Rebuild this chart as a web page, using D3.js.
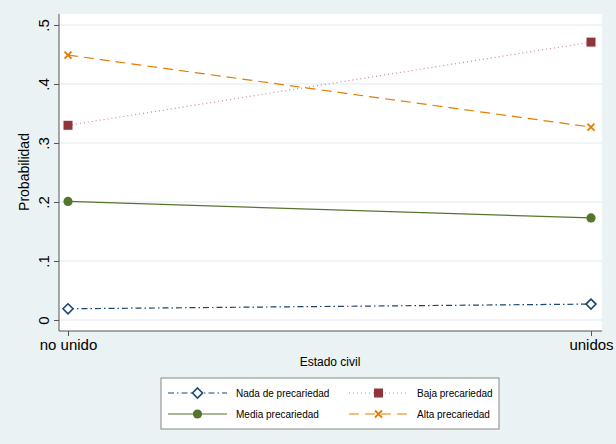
<!DOCTYPE html>
<html><head><meta charset="utf-8">
<script src="https://cdn.jsdelivr.net/npm/d3@7"></script>
<style>body{margin:0;background:#eaf2f3;}svg{display:block;font-family:"Liberation Sans",Arial,sans-serif;}</style>
</head><body>
<svg id="c" width="616" height="444"></svg>
<script>
const categories = ["no unido", "unidos"];
const nada = [0.019, 0.027];
const baja = [0.330, 0.471];
const media = [0.201, 0.173];
const alta = [0.449, 0.327];
const yTicks = [0, 0.1, 0.2, 0.3, 0.4, 0.5];
const yTickLabels = ["0", ".1", ".2", ".3", ".4", ".5"];
const seriesNames = ["Nada de precariedad", "Baja precariedad", "Media precariedad", "Alta precariedad"];

const series = [
  {name: seriesNames[0], values: nada, color: "#1a476f", dash: "6,3,1.5,3", marker: "diamond"},
  {name: seriesNames[1], values: baja, color: "#90353b", dash: "1,3", marker: "square", lineColor: "#c58a8f"},
  {name: seriesNames[2], values: media, color: "#55752f", dash: null, marker: "circle"},
  {name: seriesNames[3], values: alta, color: "#e37e00", dash: "10,6", marker: "x"}
];

const svg = d3.select("#c");
svg.append("rect").attr("width",616).attr("height",444).attr("fill","#eaf2f3");
const L=59, R=602, T=14, B=331;
svg.append("rect").attr("x",L).attr("y",T).attr("width",R-L).attr("height",B-T).attr("fill","#fff");

const x = d3.scalePoint().domain(categories).range([68, 591]);
const y = d3.scaleLinear().domain([0,0.5]).range([320, 25]);

// gridlines
svg.append("g").selectAll("line").data(yTicks).join("line")
  .attr("x1",L).attr("x2",R).attr("y1",d=>y(d)).attr("y2",d=>y(d))
  .attr("stroke","#eaf2f3").attr("stroke-width",1.5);

// y axis
const ya = svg.append("g").attr("transform",`translate(${L},0)`)
  .call(d3.axisLeft(y).tickValues(yTicks).tickFormat((d,i)=>yTickLabels[i]).tickSize(5).tickSizeOuter(0));
ya.select(".domain").attr("d",`M0,${T}V${B}`).attr("stroke","#555");
ya.selectAll(".tick line").attr("stroke","#555");
ya.selectAll(".tick text").attr("font-size",15).attr("fill","#000")
  .attr("transform","rotate(-90)").attr("x",0).attr("y",-10).attr("dy","0").attr("text-anchor","middle");

// x axis
const xa = svg.append("g").attr("transform",`translate(0,${B})`)
  .call(d3.axisBottom(x).tickSize(5).tickSizeOuter(0));
xa.select(".domain").attr("d",`M${L},0H${R}`).attr("stroke","#555");
xa.selectAll(".tick line").attr("stroke","#555");
xa.selectAll(".tick text").attr("font-size",15).attr("fill","#000").attr("y",8).attr("dy","0.71em");

svg.append("text").attr("transform","translate(29,172) rotate(-90)").attr("text-anchor","middle")
  .attr("font-size",14).text("Probabilidad");
svg.append("text").attr("x",330).attr("y",366).attr("text-anchor","middle").attr("font-size",12).text("Estado civil");

function drawMarker(g, type, cx, cy, color) {
  if (type==="diamond") {
    g.append("path").attr("d",`M${cx},${cy-5}L${cx+5},${cy}L${cx},${cy+5}L${cx-5},${cy}Z`)
      .attr("fill","#fff").attr("stroke",color).attr("stroke-width",1.6);
  } else if (type==="square") {
    g.append("rect").attr("x",cx-4.5).attr("y",cy-4.5).attr("width",9).attr("height",9).attr("fill",color);
  } else if (type==="circle") {
    g.append("circle").attr("cx",cx).attr("cy",cy).attr("r",4.6).attr("fill",color);
  } else if (type==="x") {
    g.append("path").attr("d",`M${cx-3.5},${cy-3.5}L${cx+3.5},${cy+3.5}M${cx-3.5},${cy+3.5}L${cx+3.5},${cy-3.5}`)
      .attr("stroke",color).attr("stroke-width",1.8);
  }
}

const line = d3.line().x((d,i)=>x(categories[i])).y(d=>y(d));
series.forEach(s=>{
  const g = svg.append("g");
  g.append("path").datum(s.values).attr("d",line).attr("fill","none")
    .attr("stroke", s.lineColor || s.color).attr("stroke-width",1.2)
    .attr("stroke-dasharray", s.dash);
  s.values.forEach((v,i)=>drawMarker(g, s.marker, x(categories[i]), y(v), s.color));
});

// legend
const lg = svg.append("g");
lg.append("rect").attr("x",161).attr("y",378).attr("width",338).attr("height",51)
  .attr("fill","#fff").attr("stroke","#888").attr("stroke-width",1);
const pos = [[168,393],[349,393],[168,414],[349,414]];
series.forEach((s,i)=>{
  const [lx,ly]=pos[i];
  lg.append("line").attr("x1",lx).attr("x2",lx+59).attr("y1",ly).attr("y2",ly)
    .attr("stroke", s.lineColor || s.color).attr("stroke-width",1.2).attr("stroke-dasharray",s.dash);
  drawMarker(lg, s.marker, lx+29.5, ly, s.color);
  lg.append("text").attr("x",lx+68).attr("y",ly).attr("dy","0.35em").attr("font-size",10).text(s.name);
});
</script>
</body></html>
